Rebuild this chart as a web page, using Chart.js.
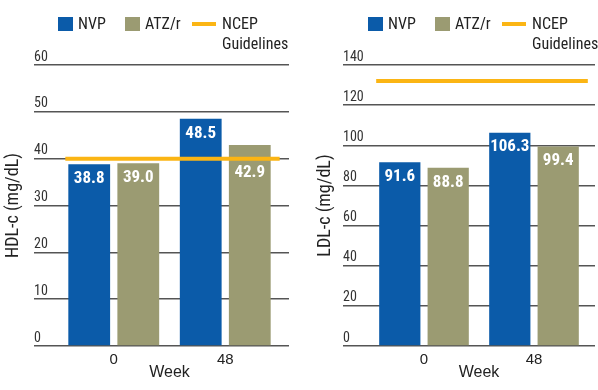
<!DOCTYPE html>
<html>
<head>
<meta charset="utf-8">
<script src="https://cdn.jsdelivr.net/npm/chart.js@4.4.1/dist/chart.umd.min.js"></script>
<style>
  body { margin: 0; background: #fff; }
  #page { position: relative; width: 598px; height: 390px; overflow: hidden; }
  .panel { position: absolute; top: 0; width: 299px; height: 390px; }
  .legend { position: absolute; top: 14px; display: flex; align-items: flex-start;
    font: 16px "Roboto Condensed", "DejaVu Sans Condensed", sans-serif; color: #222; line-height: 20px; }
  .legend .item { display: flex; align-items: flex-start; width: 67px; }
  .legend .item.last { width: auto; }
  .legend .box { width: 15px; height: 14px; margin: 3px 5px 0 0; }
  .legend .line { width: 24px; height: 4px; margin: 8px 6px 0 0; }
</style>
</head>
<body>
<div id="page">
  <div class="panel" style="left:0">
    <canvas id="hdlChart"></canvas>
    <div class="legend" id="hdlLegend" style="left:58px"></div>
  </div>
  <div class="panel" style="left:299px">
    <canvas id="ldlChart"></canvas>
    <div class="legend" id="ldlLegend" style="left:69px"></div>
  </div>
</div>
<script>
// data
const weeks = ['0', '48'];
const hdlNvp = [38.8, 48.5];
const hdlAtz = [39.0, 42.9];
const hdlGuide = 40;
const hdlTicks = [0, 10, 20, 30, 40, 50, 60];
const ldlNvp = [91.6, 106.3];
const ldlAtz = [88.8, 99.4];
const ldlGuide = 132;
const ldlTicks = [0, 20, 40, 60, 80, 100, 120, 140];

const NVP_COLOR = '#0b5ba9';
const ATZ_COLOR = '#9b9b72';
const NCEP_COLOR = '#fbb514';
const GRID_COLOR = '#555';
const NARROW = '"Roboto Condensed", "DejaVu Sans Condensed", sans-serif';
const REGULAR = '"Liberation Sans", Arial, sans-serif';

// orange guideline, spans the bar groups
const guidePlugin = {
    id: 'guide',
    afterDatasetsDraw(chart, args, opts) {
        const ctx = chart.ctx;
        const y = chart.scales.y.getPixelForValue(opts.value);
        const first = chart.getDatasetMeta(0).data[0];
        const lastBars = chart.getDatasetMeta(1).data;
        const last = lastBars[lastBars.length - 1];
        ctx.save();
        ctx.strokeStyle = NCEP_COLOR;
        ctx.lineWidth = 4;
        ctx.beginPath();
        ctx.moveTo(first.x - first.width / 2 - 3, y);
        ctx.lineTo(last.x + last.width / 2 + 9, y);
        ctx.stroke();
        ctx.restore();
    }
};

// white values inside the bar tops
const valuePlugin = {
    id: 'values',
    afterDraw(chart, args, opts) {
        const ctx = chart.ctx;
        const gy = chart.scales.y.getPixelForValue(opts.guide);
        ctx.save();
        ctx.fillStyle = '#fff';
        ctx.font = 'bold 17px ' + NARROW;
        ctx.textAlign = 'center';
        ctx.textBaseline = 'middle';
        chart.data.datasets.forEach((ds, i) => {
            chart.getDatasetMeta(i).data.forEach((bar, j) => {
                let y = bar.y + 14.5;
                if (Math.abs(y - gy) < 10) y = gy + 14; // keep clear of the guideline
                ctx.fillText(ds.data[j].toFixed(1), bar.x, y);
            });
        });
        ctx.restore();
    }
};

function buildLegend(el) {
    el.innerHTML =
        '<span class="item"><i class="box" style="background:' + NVP_COLOR + '"></i>NVP</span>' +
        '<span class="item"><i class="box" style="background:' + ATZ_COLOR + '"></i>ATZ/r</span>' +
        '<span class="item last"><i class="line" style="background:' + NCEP_COLOR + '"></i><span>NCEP<br>Guidelines</span></span>';
}

function makeChart(id, nvp, atz, guide, ticks, title, g) {
    const setTicks = s => { s.ticks = ticks.map(v => ({ value: v })); };
    return new Chart(document.getElementById(id), {
        type: 'bar',
        data: {
            labels: weeks,
            datasets: [
                { label: 'NVP', data: nvp, backgroundColor: NVP_COLOR },
                { label: 'ATZ/r', data: atz, backgroundColor: ATZ_COLOR }
            ]
        },
        options: {
            responsive: true,
            maintainAspectRatio: false,
            animation: false,
            categoryPercentage: 0.88,
            barPercentage: 0.852,
            layout: { padding: { top: 65, left: 0, right: g.padRight, bottom: 0 } },
            plugins: {
                legend: { display: false },
                tooltip: { enabled: false },
                guide: { value: guide },
                values: { guide: guide }
            },
            scales: {
                x: {
                    grid: { display: false, drawTicks: false },
                    border: { display: false },
                    afterFit: s => { s.height = 44; },
                    ticks: { color: '#222', padding: 5, font: { family: REGULAR, size: 15 } },
                    title: { display: true, text: 'Week', color: '#222', font: { family: REGULAR, size: 16 },
                        padding: { top: 0, bottom: 7.4 } }
                },
                y: {
                    min: ticks[0],
                    max: ticks[ticks.length - 1],
                    afterBuildTicks: setTicks,
                    afterFit: s => { s.width = g.axisLeft; },
                    border: { display: false },
                    grid: { color: GRID_COLOR, lineWidth: 1.5, drawTicks: true, tickLength: g.tickLeft },
                    ticks: { mirror: true, padding: -g.tickLeft, labelOffset: -8, color: '#333',
                        font: { family: NARROW, size: 14 } },
                    title: { display: true, text: title, color: '#222', font: { family: NARROW, size: 18 },
                        padding: { top: g.titlePad, bottom: 0 } }
                },
                y2: {
                    position: 'right',
                    min: ticks[0],
                    max: ticks[ticks.length - 1],
                    afterBuildTicks: setTicks,
                    afterFit: s => { s.width = g.tickRight; },
                    border: { display: false },
                    grid: { drawOnChartArea: false, color: GRID_COLOR, lineWidth: 1.5, tickLength: g.tickRight },
                    ticks: { display: false }
                }
            }
        },
        plugins: [guidePlugin, valuePlugin]
    });
}

document.addEventListener('DOMContentLoaded', function () {
    buildLegend(document.getElementById('hdlLegend'));
    buildLegend(document.getElementById('ldlLegend'));
    makeChart('hdlChart', hdlNvp, hdlAtz, hdlGuide, hdlTicks, 'HDL-c (mg/dL)',
        { axisLeft: 58, tickLeft: 24, titlePad: 2.9, tickRight: 8, padRight: 10 });
    makeChart('ldlChart', ldlNvp, ldlAtz, ldlGuide, ldlTicks, 'LDL-c (mg/dL)',
        { axisLeft: 70, tickLeft: 26, titlePad: 15.6, tickRight: 6, padRight: 3 });
});
</script>
</body>
</html>
